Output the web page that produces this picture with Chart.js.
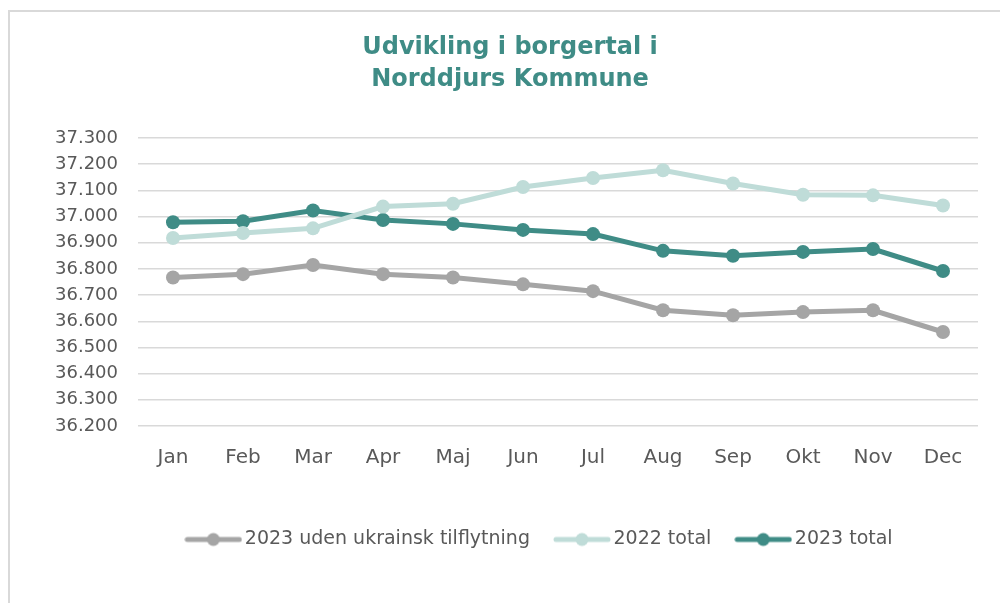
<!DOCTYPE html>
<html>
<head>
<meta charset="utf-8">
<script src="https://cdn.jsdelivr.net/npm/chart.js@4.4.0/dist/chart.umd.min.js"></script>
<style>
  html, body { margin: 0; padding: 0; overflow: hidden; background: #fff; }
  #frame { position: absolute; left: 8px; top: 10px; width: 1000px; height: 700px; border: 2px solid #d9d9d9; }
  #chart { position: absolute; left: 0; top: 0; }
</style>
</head>
<body>
<div id="frame"></div>
<canvas id="chart" width="1000" height="603"></canvas>
<script>
// Data
const MONTHS = ['Jan', 'Feb', 'Mar', 'Apr', 'Maj', 'Jun', 'Jul', 'Aug', 'Sep', 'Okt', 'Nov', 'Dec'];
const UDEN_UKRAINSK_2023 = [36767, 36780, 36815, 36780, 36767, 36741, 36715, 36642, 36623, 36635, 36642, 36559];
const TOTAL_2022 = [36918, 36937, 36955, 37038, 37049, 37113, 37147, 37177, 37126, 37083, 37081, 37042];
const TOTAL_2023 = [36978, 36982, 37023, 36987, 36972, 36949, 36933, 36869, 36850, 36865, 36876, 36792];
const SERIES_NAMES = ['2023 uden ukrainsk tilflytning', '2022 total', '2023 total'];
const Y_MIN = 36200;
const Y_MAX = 37300;
const Y_STEP = 100;

const COLORS = ['#a5a5a5', '#bfdcd8', '#3f8c86'];
const FONT = '"DejaVu Sans", sans-serif';
const TEXT_COLOR = '#595959';

// Danish thousands separator
function formatNumber(v) {
    const s = String(Math.round(v));
    return s.slice(0, s.length - 3) + '.' + s.slice(-3);
}

// Legend marker: line with a dot in the middle, like the Excel legend
function legendMarker(color) {
    const c = document.createElement('canvas');
    c.width = 58;
    c.height = 16;
    const ctx = c.getContext('2d');
    ctx.strokeStyle = color;
    ctx.lineWidth = 5;
    ctx.lineCap = 'round';
    ctx.beginPath();
    ctx.moveTo(3, 8);
    ctx.lineTo(55, 8);
    ctx.stroke();
    ctx.fillStyle = color;
    ctx.beginPath();
    ctx.arc(29, 8, 6.5, 0, Math.PI * 2);
    ctx.fill();
    return c;
}

function makeDataset(label, data, color) {
    return {
        label: label,
        data: data,
        borderColor: color,
        backgroundColor: color,
        borderWidth: 5,
        pointRadius: 7,
        pointHoverRadius: 7,
        pointBorderWidth: 0,
        tension: 0
    };
}

// nudge title and legend sideways, the reference has them off the canvas centre
const shiftBoxes = {
    id: 'shiftBoxes',
    afterLayout: function (chart) {
        if (chart.titleBlock) {
            chart.titleBlock.left += 21;
            chart.titleBlock.right += 21;
        }
        if (chart.legend) {
            chart.legend.left += 53;
            chart.legend.right += 53;
        }
    }
};

const ctx = document.getElementById('chart').getContext('2d');
new Chart(ctx, {
    type: 'line',
    data: {
        labels: MONTHS,
        datasets: [
            makeDataset(SERIES_NAMES[0], UDEN_UKRAINSK_2023, COLORS[0]),
            makeDataset(SERIES_NAMES[1], TOTAL_2022, COLORS[1]),
            makeDataset(SERIES_NAMES[2], TOTAL_2023, COLORS[2])
        ]
    },
    plugins: [shiftBoxes],
    options: {
        responsive: false,
        animation: false,
        layout: {
            padding: { top: 32, right: 22, bottom: 44, left: 0 }
        },
        plugins: {
            title: {
                display: true,
                text: ['Udvikling i borgertal i', 'Norddjurs Kommune'],
                color: '#3f8c86',
                font: { family: FONT, size: 24, weight: 'bold', lineHeight: 32 / 24 },
                padding: { top: 0, bottom: 42 }
            },
            legend: {
                position: 'bottom',
                labels: {
                    usePointStyle: true,
                    pointStyleWidth: 44,
                    color: TEXT_COLOR,
                    font: { family: FONT, size: 19 },
                    padding: 30,
                    generateLabels: function (chart) {
                        return chart.data.datasets.map(function (ds, i) {
                            return {
                                text: ds.label,
                                fillStyle: ds.borderColor,
                                strokeStyle: ds.borderColor,
                                lineWidth: 0,
                                pointStyle: legendMarker(ds.borderColor),
                                fontColor: TEXT_COLOR,
                                datasetIndex: i
                            };
                        });
                    }
                }
            },
            tooltip: { enabled: false }
        },
        scales: {
            x: {
                offset: true,
                grid: { display: false },
                border: { display: false },
                ticks: {
                    color: TEXT_COLOR,
                    font: { family: FONT, size: 20 },
                    padding: 12
                },
                afterFit: function (scale) { scale.height = 74; }
            },
            y: {
                min: Y_MIN,
                max: Y_MAX,
                grid: { color: '#d9d9d9', lineWidth: 1.5, drawTicks: false },
                border: { display: false },
                ticks: {
                    stepSize: Y_STEP,
                    color: TEXT_COLOR,
                    font: { family: FONT, size: 18 },
                    padding: 20,
                    callback: function (v) { return formatNumber(v); }
                },
                afterFit: function (scale) { scale.width = 138; }
            }
        }
    }
});
</script>
</body>
</html>
